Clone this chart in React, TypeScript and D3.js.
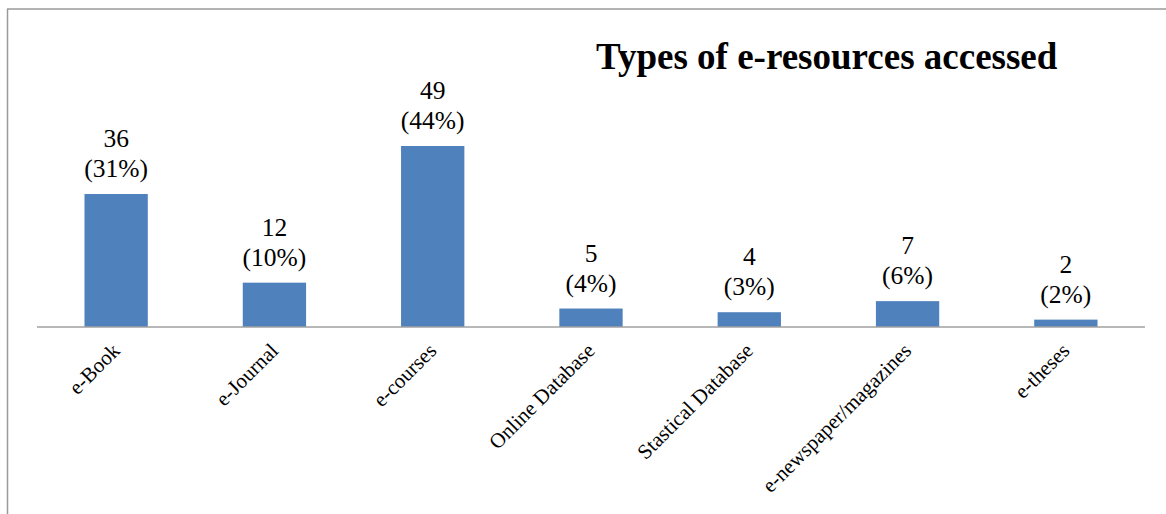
import React from "react";
import * as d3 from "d3";

const categories = [
  "e-Book",
  "e-Journal",
  "e-courses",
  "Online Database",
  "Stastical Database",
  "e-newspaper/magazines",
  "e-theses",
];
const counts = [36, 12, 49, 5, 4, 7, 2];
const percents = ["31%", "10%", "44%", "4%", "3%", "6%", "2%"];
const title = "Types of e-resources accessed";

const W = 1166;
const H = 514;
const FONT = "Liberation Serif, Times New Roman, serif";

export default function App() {
  const axisLeft = 37;
  const axisRight = 1145;
  const baseline = 327;

  const x = d3
    .scaleBand<string>()
    .domain(categories)
    .range([axisLeft, axisRight])
    .paddingInner(0.6)
    .paddingOuter(0.3);

  const y = d3.scaleLinear().domain([0, 60]).range([baseline, baseline - 60 * (181 / 49)]);

  return (
    <svg
      width={W}
      height={H}
      style={{ position: "absolute", left: 0, top: 0, background: "#fff", fontFamily: FONT }}
    >
      <rect x={0} y={0} width={W} height={H} fill="#fff" />
      {/* chart frame: left and top edges */}
      <line x1={7.5} y1={9} x2={7.5} y2={H} stroke="#9a9a9a" strokeWidth={1.5} />
      <line x1={7} y1={9} x2={W} y2={9} stroke="#9a9a9a" strokeWidth={1.5} />

      <text x={596} y={69} fontSize={37} fontWeight="bold" fill="#000">
        {title}
      </text>

      {categories.map((c, i) => {
        const bx = x(c)!;
        const top = y(counts[i]);
        const cx = bx + x.bandwidth() / 2;
        return (
          <g key={c}>
            <rect
              x={bx}
              y={top}
              width={x.bandwidth()}
              height={baseline - top}
              fill="#4F81BD"
            />
            <text x={cx} y={top - 47} textAnchor="middle" fontSize={25.5} fill="#000">
              {counts[i]}
            </text>
            <text x={cx} y={top - 17} textAnchor="middle" fontSize={25.5} fill="#000">
              ({percents[i]})
            </text>
          </g>
        );
      })}

      <line
        x1={axisLeft}
        y1={baseline}
        x2={axisRight}
        y2={baseline}
        stroke="#a0a0a0"
        strokeWidth={1.5}
      />

      {categories.map((c) => {
        const cx = x(c)! + x.bandwidth() / 2;
        const ax = cx + 5;
        const ay = 352;
        return (
          <text
            key={"lab-" + c}
            x={ax}
            y={ay}
            textAnchor="end"
            fontSize={21}
            fill="#000"
            transform={`rotate(-45 ${ax} ${ay})`}
          >
            {c}
          </text>
        );
      })}
    </svg>
  );
}
